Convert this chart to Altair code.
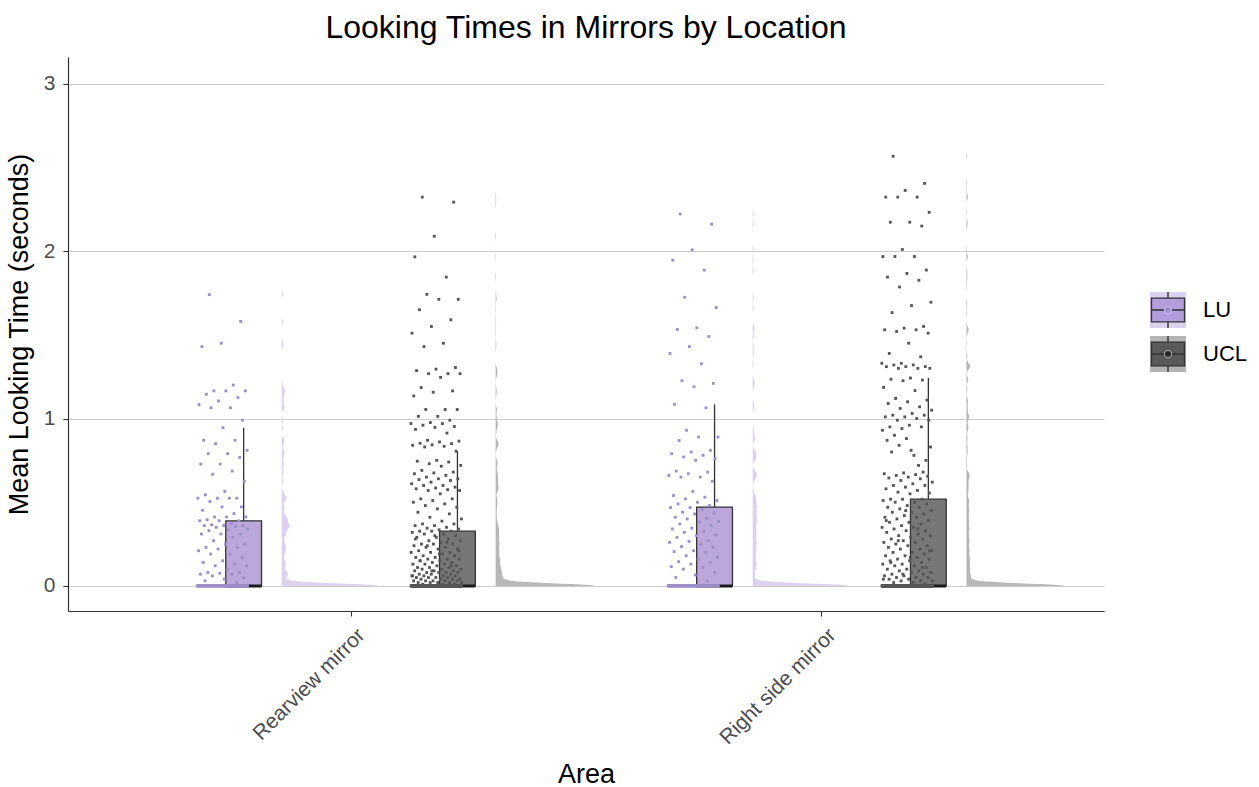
import altair as alt
import pandas as pd

# ---------------- data ----------------
AREAS = ["Rearview mirror", "Right side mirror"]
GROUPS = ["LU", "UCL"]

# participants with a mean looking time of exactly 0 (the flat line at 0)
REAR_LU_ZEROS = 90
RIGHT_LU_ZEROS = 90
REAR_UCL_ZEROS = 200
RIGHT_UCL_ZEROS = 200

REAR_LU = [1.74, 1.58, 1.45, 1.43, 1.20, 1.165, 1.165, 1.165, 1.145, 1.125,
           1.105, 1.083, 1.064, 1.064, 0.99, 0.945, 0.87, 0.87, 0.85, 0.81,
           0.79, 0.79, 0.768, 0.728, 0.728, 0.686, 0.667, 0.625, 0.565, 0.544,
           0.524, 0.524, 0.524, 0.524, 0.504, 0.472, 0.472, 0.452, 0.432, 0.412,
           0.412, 0.412, 0.395, 0.389, 0.389, 0.389, 0.37, 0.365, 0.36, 0.36,
           0.36, 0.355, 0.35, 0.34, 0.335, 0.33, 0.31, 0.31, 0.31, 0.29,
           0.27, 0.25, 0.25, 0.23, 0.23, 0.22, 0.21, 0.19, 0.19, 0.17,
           0.15, 0.14, 0.13, 0.12, 0.12, 0.10, 0.08, 0.08, 0.075, 0.07,
           0.07, 0.06, 0.05, 0.04, 0.03, 0.02]

RIGHT_LU = [2.222, 2.161, 2.008, 1.946, 1.887, 1.724, 1.663, 1.542, 1.532, 1.49,
            1.43, 1.389, 1.327, 1.226, 1.21, 1.19, 1.085, 1.064, 0.93, 0.889,
            0.889, 0.869, 0.81, 0.80, 0.79, 0.78, 0.77, 0.76, 0.75, 0.686,
            0.68, 0.67, 0.66, 0.65, 0.65, 0.625, 0.565, 0.54, 0.53, 0.52,
            0.51, 0.50, 0.49, 0.48, 0.468, 0.468,
            0.455, 0.44, 0.435, 0.43, 0.41, 0.405, 0.40, 0.385, 0.38, 0.37,
            0.36, 0.345, 0.34, 0.325, 0.32, 0.305, 0.30, 0.29, 0.27, 0.265,
            0.26, 0.25, 0.235, 0.23, 0.21, 0.205, 0.20, 0.18, 0.17, 0.16,
            0.145, 0.14, 0.13, 0.115, 0.11, 0.10, 0.08, 0.065, 0.05, 0.03]

REAR_UCL = [2.323, 2.293, 2.089, 1.966, 1.845, 1.742, 1.712, 1.712, 1.65, 1.59,
            1.55, 1.51, 1.45, 1.43, 1.305, 1.295, 1.286, 1.268, 1.268, 1.268,
            1.246, 1.185, 1.165, 1.157, 1.135, 1.054, 1.054, 1.054, 1.013, 1.013,
            0.99, 0.976, 0.97, 0.97, 0.96, 0.952, 0.947, 0.935, 0.913, 0.87,
            0.865, 0.86, 0.852, 0.85, 0.843, 0.84, 0.834, 0.83, 0.805, 0.75,
            0.745, 0.74, 0.73, 0.72, 0.715, 0.69, 0.68, 0.675, 0.67, 0.66,
            0.65, 0.64, 0.64, 0.635, 0.63, 0.62, 0.61, 0.60, 0.60, 0.59,
            0.585, 0.58, 0.575, 0.57, 0.57, 0.55, 0.52, 0.52, 0.51, 0.50,
            0.49, 0.48, 0.47, 0.46, 0.44, 0.43, 0.41, 0.40, 0.387, 0.37,
            0.37, 0.36, 0.36, 0.35, 0.345, 0.34, 0.335,
            0.327, 0.327, 0.327,
            0.32, 0.31, 0.31, 0.30, 0.29, 0.29, 0.28, 0.27, 0.27, 0.26,
            0.25, 0.25, 0.25, 0.24, 0.23, 0.23, 0.22, 0.22, 0.21, 0.20,
            0.20, 0.20, 0.19, 0.18, 0.18, 0.17, 0.17, 0.16, 0.16, 0.16,
            0.15, 0.15, 0.14, 0.14, 0.13, 0.13, 0.13, 0.12, 0.12, 0.11,
            0.11, 0.11, 0.10, 0.10, 0.10, 0.09, 0.09, 0.09, 0.08, 0.08,
            0.08, 0.08, 0.07, 0.07, 0.07, 0.06, 0.06, 0.06, 0.06, 0.05,
            0.05, 0.05, 0.05, 0.04, 0.04, 0.04, 0.04, 0.03, 0.03, 0.03,
            0.03, 0.03, 0.02, 0.02, 0.02, 0.02, 0.02, 0.01, 0.01, 0.01,
            0.30, 0.28, 0.26, 0.24, 0.21, 0.19, 0.15, 0.12, 0.09, 0.06]

RIGHT_UCL = [2.567, 2.405, 2.363, 2.323, 2.323, 2.323, 2.232, 2.173, 2.173, 2.15,
             2.01, 1.968, 1.968, 1.968, 1.887, 1.867, 1.845, 1.826, 1.786, 1.695,
             1.675, 1.633, 1.55, 1.54, 1.53, 1.53, 1.52, 1.51, 1.45, 1.389,
             1.369, 1.33, 1.33, 1.32, 1.32, 1.31, 1.31, 1.31, 1.30, 1.30,
             1.30, 1.242, 1.235, 1.23, 1.226, 1.186, 1.167, 1.12, 1.11, 1.10,
             1.09, 1.07, 1.06, 1.05, 1.03, 1.02, 1.02, 1.01, 1.01, 1.00,
             0.99, 0.99, 0.96, 0.95, 0.95, 0.94, 0.93, 0.78, 0.90, 0.75,
             0.88, 0.87, 0.72, 0.84, 0.83, 0.81, 0.80, 0.68, 0.675, 0.67,
             0.665, 0.66, 0.655, 0.65, 0.645, 0.64, 0.63, 0.62, 0.61, 0.60,
             0.60, 0.59, 0.58, 0.57, 0.56, 0.555, 0.55,
             0.518, 0.518, 0.518,
             0.51, 0.50, 0.50, 0.49, 0.48, 0.47, 0.47, 0.46, 0.45, 0.44,
             0.44, 0.43, 0.42, 0.41, 0.41, 0.40, 0.39, 0.38, 0.38, 0.37,
             0.36, 0.35, 0.35, 0.34, 0.33, 0.33, 0.32, 0.31, 0.30, 0.30,
             0.29, 0.28, 0.28, 0.27, 0.26, 0.26, 0.25, 0.24, 0.24, 0.23,
             0.22, 0.22, 0.21, 0.20, 0.20, 0.19, 0.18, 0.18, 0.17, 0.16,
             0.16, 0.15, 0.15, 0.14, 0.13, 0.13, 0.12, 0.12, 0.11, 0.10,
             0.10, 0.09, 0.09, 0.08, 0.08, 0.07, 0.07, 0.06, 0.06, 0.05,
             0.05, 0.05, 0.04, 0.04, 0.03, 0.03, 0.03, 0.02, 0.02, 0.01,
             0.45, 0.39, 0.34, 0.27, 0.21, 0.17, 0.14, 0.11, 0.07, 0.04]

SERIES = [
    (AREAS[0], GROUPS[0], REAR_LU_ZEROS, REAR_LU),
    (AREAS[0], GROUPS[1], REAR_UCL_ZEROS, REAR_UCL),
    (AREAS[1], GROUPS[0], RIGHT_LU_ZEROS, RIGHT_LU),
    (AREAS[1], GROUPS[1], RIGHT_UCL_ZEROS, RIGHT_UCL),
]
rows = []
for area, group, nz, vals in SERIES:
    for v in [0.0] * nz + list(vals):
        rows.append({"area": area, "group": group, "value": v})
df = pd.DataFrame(rows)

# ---------------- layout / style ----------------
FONT = "Liberation Sans"
W, H = 1036, 554
BOX_OFF = 0.227      # dodge of each group's box from the area centre
BOX_HALF = 0.038     # half box width
PT_SHIFT = -0.045    # jittered points sit left of the box
JIT = 0.054          # jitter half width
VIO_SHIFT = 0.081    # flat violin starts right of the box
VIO_W = 0.21         # widest violin

COL = {
    "violin": ("#dcd2ee", "#b8b8b8"),
    "box": ("#bba7dc", "#777777"),
    "point": ("#9c8ec6", "#555555"),
}


def pick(kind):
    a, b = COL[kind]
    return f"datum.group === '{GROUPS[0]}' ? '{a}' : '{b}'"


def placed(ch):
    return ch.transform_calculate(
        area_i=f"datum.area === '{AREAS[0]}' ? 1 : 2",
        sgn=f"datum.group === '{GROUPS[0]}' ? -1 : 1",
    ).transform_calculate(box_c=f"datum.area_i + datum.sgn * {BOX_OFF}")


xscale = alt.Scale(domain=[0.4, 2.6], nice=False, zero=False)
yscale = alt.Scale(domain=[-0.15, 3.16], nice=False, zero=False)
xaxis = alt.Axis(
    values=[1, 2],
    labelExpr=f"datum.value == 1 ? '{AREAS[0]}' : '{AREAS[1]}'",
    labelAngle=-45, labelAlign="right", labelBaseline="top",
    labelFontSize=21, labelColor="#4d4d4d", labelPadding=8, labelOffset=3,
    labelOverlap=False, labelFlush=False,
    tickSize=5, tickColor="#333333", tickWidth=1.1,
    domainColor="#333333", domainWidth=1.2, grid=False,
    title="Area", titleFontSize=27, titleFontWeight="normal",
    titleColor="#000000", titlePadding=14,
)
yaxis = alt.Axis(
    values=[0, 1, 2, 3], format="d",
    grid=True, gridColor="#cccccc", gridWidth=1.1,
    domainColor="#333333", domainWidth=1.2,
    tickSize=5, tickColor="#333333", tickWidth=1.1,
    labelFontSize=21, labelColor="#4d4d4d", labelPadding=8,
    title="Mean Looking Time (seconds)", titleFontSize=27,
    titleFontWeight="normal", titleColor="#000000", titlePadding=10,
)


def X(f):
    return alt.X(f"{f}:Q", scale=xscale, axis=xaxis)


def Y(f):
    return alt.Y(f"{f}:Q", scale=yscale, axis=yaxis)


base = alt.Chart(df)

# flat half violins
violin = placed(
    base.transform_density(
        "value", as_=["value", "density"], groupby=["area", "group"],
        bandwidth=0.014, extent=[0, 2.7], steps=1000,
    ).transform_joinaggregate(maxd="max(density)")
).transform_calculate(
    vx0=f"datum.box_c + {VIO_SHIFT}",
    vx1=f"datum.box_c + {VIO_SHIFT} + datum.density / datum.maxd * {VIO_W}",
    vcol=pick("violin"),
).mark_area(orient="horizontal", opacity=1).encode(
    y=Y("value"), x=X("vx0"), x2="vx1",
    fill=alt.Fill("vcol:N", scale=None),
    detail=["area:N", "group:N"],
)

# box statistics
stats = base.transform_joinaggregate(
    jq1="q1(value)", jq3="q3(value)", groupby=["area", "group"]
).transform_calculate(
    upv="datum.value <= datum.jq3 + 1.5 * (datum.jq3 - datum.jq1) ? datum.value : null",
    lov="datum.value >= datum.jq1 - 1.5 * (datum.jq3 - datum.jq1) ? datum.value : null",
).transform_aggregate(
    q1="min(jq1)", q3="min(jq3)", med="median(value)",
    upper="max(upv)", lower="min(lov)", groupby=["area", "group"],
)
stats = placed(stats).transform_calculate(
    bx0=f"datum.box_c - {BOX_HALF}",
    bx1=f"datum.box_c + {BOX_HALF}",
    bcol=pick("box"),
)

upper_rule = stats.mark_rule(color="#333333", strokeWidth=1.3).encode(
    x=X("box_c"), y=Y("q3"), y2="upper")
lower_rule = stats.mark_rule(color="#333333", strokeWidth=1.3).encode(
    x=X("box_c"), y=Y("lower"), y2="q1")
box = stats.mark_rect(stroke="#333333", strokeWidth=1.3, opacity=1).encode(
    x=X("bx0"), x2="bx1", y=Y("q1"), y2="q3",
    fill=alt.Fill("bcol:N", scale=None))
median = stats.mark_rule(color="#1a1a1a", strokeWidth=3).encode(
    x=X("bx0"), x2="bx1", y=Y("med"))

# jittered raw points
pts = placed(
    base.transform_window(rn="row_number()", groupby=["area", "group"])
).transform_calculate(
    px=f"datum.box_c + {PT_SHIFT} + ((datum.rn * 0.6180339887) % 1 - 0.5) * 2 * {JIT}",
    pcol=pick("point"),
).mark_square(size=8, opacity=1, strokeWidth=0).encode(
    x=X("px"), y=Y("value"), fill=alt.Fill("pcol:N", scale=None))

main = alt.layer(violin, lower_rule, upper_rule, box, median, pts).properties(
    width=W, height=H,
    title=alt.TitleParams(
        "Looking Times in Mirrors by Location", fontSize=32,
        fontWeight="normal", color="#000000", anchor="middle",
        frame="group", offset=12),
)

# ---------------- legend panel ----------------
leg_df = pd.DataFrame({"group": GROUPS})
legy = alt.Y("group:N", axis=None,
             scale=alt.Scale(type="point", domain=GROUPS, range=[253, 297], padding=0))
KEY_X = 64
BOX_PATH = "M-0.92,-0.66H0.92V0.66H-0.92Z M0,-1V-0.66 M0,0.66V1 M-0.92,0H0.92"
lbase = alt.Chart(leg_df).transform_calculate(
    bg=f"datum.group === '{GROUPS[0]}' ? '#dcd0ef' : '#b3b3b3'",
    bcol=f"datum.group === '{GROUPS[0]}' ? '#b39ddc' : '#5a5a5a'",
    dcol=f"datum.group === '{GROUPS[0]}' ? '#a58fd3' : '#262626'",
    dstroke=f"datum.group === '{GROUPS[0]}' ? '#c6b6e6' : '#a0a0a0'",
)
l_bg = lbase.mark_square(size=1296, opacity=1, strokeWidth=0).encode(
    y=legy, x=alt.value(KEY_X), fill=alt.Fill("bg:N", scale=None))
l_box = lbase.mark_point(shape=BOX_PATH, size=1296, filled=True, opacity=1,
                         stroke="#333333", strokeWidth=1.4).encode(
    y=legy, x=alt.value(KEY_X), fill=alt.Fill("bcol:N", scale=None))
l_dot = lbase.mark_circle(size=50, opacity=1, strokeWidth=1.2).encode(
    y=legy, x=alt.value(KEY_X), fill=alt.Fill("dcol:N", scale=None),
    stroke=alt.Stroke("dstroke:N", scale=None))
l_txt = lbase.mark_text(align="left", baseline="middle", fontSize=22,
                        color="#000000").encode(
    y=legy, x=alt.value(99), text="group:N")
legend = alt.layer(l_bg, l_box, l_dot, l_txt).properties(width=154, height=H)

chart = alt.hconcat(main, legend, spacing=0, bounds="flush").properties(
    padding={"left": 5, "top": 12, "right": 0, "bottom": 0},
).configure(font=FONT).configure_view(strokeWidth=0)

chart.save("out.html", embed_options={"renderer": "svg", "actions": False})
